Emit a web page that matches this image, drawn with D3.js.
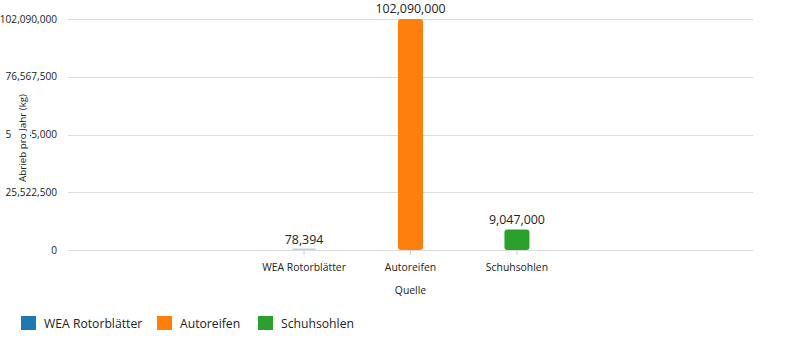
<!DOCTYPE html>
<html>
<head>
<meta charset="utf-8">
<script src="https://cdn.jsdelivr.net/npm/d3@7"></script>
<style>
  html, body { margin: 0; padding: 0; background: #fff; }
  svg { display: block; font-family: "Open Sans", "Noto Sans", sans-serif; }
</style>
</head>
<body>
<svg id="chart" width="800" height="340"></svg>
<script>
const categories = ["WEA Rotorblätter", "Autoreifen", "Schuhsohlen"];
const values = [78394, 102090000, 9047000];
const colors = ["#1f77b4", "#ff7f0e", "#2ca02c"];
const yTicks = [0, 25522500, 51045000, 76567500, 102090000];
const yLabel = "Abrieb pro Jahr (kg)";
const xLabel = "Quelle";

(function () {
const svg = d3.select("#chart");
const left = 68, right = 753, plotTop = 19, bottom = 250;

const x = d3.scaleBand().domain(categories).range([left, right])
  .paddingInner(0.765).paddingOuter(2.1);
const y = d3.scaleLinear().domain([0, 102090000]).range([bottom, plotTop]);
const fmt = d3.format(",");

// grid
svg.append("g").selectAll("line").data(yTicks).join("line")
  .attr("x1", left).attr("x2", right)
  .attr("y1", d => Math.round(y(d)) + 0.5).attr("y2", d => Math.round(y(d)) + 0.5)
  .attr("stroke", "#dcdcdc").attr("stroke-width", 1);

// y axis labels
const yAxis = svg.append("g").attr("transform", `translate(${left - 11},0)`)
  .call(d3.axisLeft(y).tickValues(yTicks).tickFormat(fmt).tickSize(0).tickPadding(0));
yAxis.select(".domain").remove();
yAxis.selectAll("text").attr("font-size", 10.1).attr("fill", "#222")
  .attr("font-family", "'Open Sans', sans-serif");

// x axis
const xAxis = svg.append("g").attr("transform", `translate(0,${bottom})`)
  .call(d3.axisBottom(x).tickSize(5).tickPadding(9));
xAxis.select(".domain").remove();
xAxis.selectAll("line").attr("stroke", "#ccc");
xAxis.selectAll("text").attr("font-size", 10.4).attr("fill", "#222")
  .attr("font-family", "'Open Sans', sans-serif");

// bars
svg.append("g").selectAll("rect").data(categories).join("rect")
  .attr("x", d => x(d))
  .attr("width", x.bandwidth())
  .attr("y", (d, i) => Math.min(y(values[i]), bottom - 1.5))
  .attr("height", (d, i) => Math.max(bottom - y(values[i]), 1.5))
  .attr("rx", 3).attr("ry", 3)
  .attr("fill", (d, i) => i === 0 ? "#b7d2ea" : colors[i]);

// value labels
svg.append("g").selectAll("text").data(categories).join("text")
  .attr("x", d => x(d) + x.bandwidth() / 2)
  .attr("y", (d, i) => y(values[i]) - 6)
  .attr("text-anchor", "middle")
  .attr("font-size", 12.4).attr("fill", "#222")
  .text((d, i) => fmt(values[i]));

// axis titles
const yl = svg.append("g").attr("transform", `translate(26,138) rotate(-90)`);
const ylt = yl.append("text").attr("text-anchor", "middle")
  .attr("font-size", 9.8).attr("fill", "#222").text(yLabel);
const bb = ylt.node().getBBox();
yl.insert("rect", "text").attr("x", bb.x - 1).attr("y", bb.y - 4)
  .attr("width", bb.width + 2).attr("height", bb.height + 5).attr("fill", "#fff");

svg.append("text").attr("x", (left + right) / 2).attr("y", 294)
  .attr("text-anchor", "middle").attr("font-size", 10.4).attr("fill", "#222").text(xLabel);

// legend
const legendX = [21, 157, 258];
const lg = svg.append("g").selectAll("g").data(categories).join("g")
  .attr("transform", (d, i) => `translate(${legendX[i]},316)`);
lg.append("rect").attr("width", 15).attr("height", 14)
  .attr("fill", (d, i) => colors[i]);
lg.append("text").attr("x", 23).attr("y", 11.5)
  .attr("font-size", 12.2).attr("fill", "#222").text(d => d);
})();
</script>
</body>
</html>
